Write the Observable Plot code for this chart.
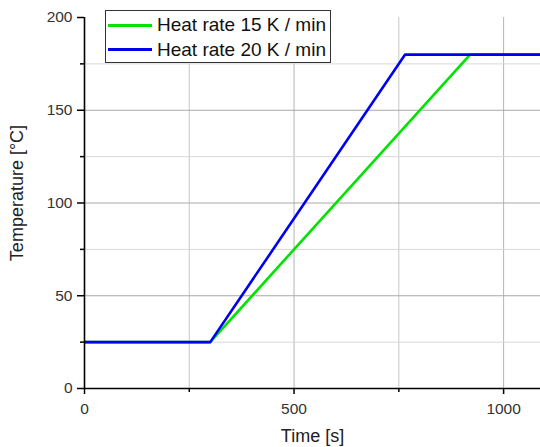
<!DOCTYPE html>
<html>
<head>
<meta charset="utf-8">
<script src="https://cdn.jsdelivr.net/npm/d3@7"></script>
<script src="https://cdn.jsdelivr.net/npm/@observablehq/plot@0.6"></script>
<style>
  body { margin: 0; background: white; }
  #wrap { position: relative; width: 540px; height: 447px; font-family: "Liberation Sans", Arial, sans-serif; }
  #legend { position: absolute; left: 105px; top: 10px; width: 224px; height: 51px; border: 1.5px solid #333; background: white; box-sizing: content-box; }
  .row { position: absolute; left: 0; height: 24px; display: flex; align-items: center; }
  .sw { width: 44px; height: 0; border-top: 3px solid; margin-left: 2px; margin-right: 5px; }
  .lab { font-size: 19px; color: #111; white-space: nowrap; }
</style>
</head>
<body>
<div id="wrap"><div id="legend"></div></div>
<script>
// Data
const seriesNames = ["Heat rate 15 K / min", "Heat rate 20 K / min"];
const seriesColors = ["#00e400", "#0000f0"];
const time15 = [0, 300, 920, 1100];
const temp15 = [25, 25, 180, 180];
const time20 = [0, 300, 765, 1100];
const temp20 = [25, 25, 180, 180];
const xMajorTicks = [0, 500, 1000];
const xMinorTicks = [250, 750];
const yMajorTicks = [0, 50, 100, 150, 200];
const yMinorTicks = [25, 75, 125, 175];
const xTitle = "Time [s]";
const yTitle = "Temperature [°C]";

const s15 = time15.map((t, i) => ({t, v: temp15[i]}));
const s20 = time20.map((t, i) => ({t, v: temp20[i]}));

const chart = Plot.plot({
  width: 540,
  height: 447,
  marginLeft: 84,
  marginRight: 0,
  marginTop: 17,
  marginBottom: 59,
  x: {domain: [0, 1088]},
  y: {domain: [0, 200]},
  style: {fontFamily: "'Liberation Sans', Arial, sans-serif", background: "white", overflow: "visible"},
  marks: [
    Plot.gridX(xMinorTicks, {stroke: "#c8c8c8", strokeOpacity: 1}),
    Plot.gridX(xMajorTicks.filter(d => d > 0), {stroke: "#b4b4b4", strokeOpacity: 1}),
    Plot.gridY(yMinorTicks, {stroke: "#d8d8d8", strokeOpacity: 1}),
    Plot.gridY(yMajorTicks.filter(d => d > 0 && d < 200), {stroke: "#a8a8a8", strokeOpacity: 1}),
    Plot.line(s15, {x: "t", y: "v", stroke: seriesColors[0], strokeWidth: 2.6, clip: true}),
    Plot.line(s20, {x: "t", y: "v", stroke: seriesColors[1], strokeWidth: 2.6, clip: true}),
    Plot.ruleY([0], {stroke: "black", strokeWidth: 1.6}),
    Plot.ruleX([0], {stroke: "black", strokeWidth: 1.6}),
    Plot.axisX(xMajorTicks, {tickSize: 6, tickPadding: 8, fontSize: 15.5, fill: "#333", stroke: "black", strokeWidth: 1.5, label: null, tickFormat: d => String(d)}),
    Plot.axisX(xMinorTicks, {tickSize: 4, tickFormat: () => "", stroke: "black", strokeWidth: 1.5, label: null}),
    Plot.axisY(yMajorTicks, {tickSize: 7, tickPadding: 5, fontSize: 15.5, fill: "#333", stroke: "black", strokeWidth: 1.5, label: null, tickFormat: d => String(d)}),
    Plot.axisY(yMinorTicks, {tickSize: 4, tickFormat: () => "", stroke: "black", strokeWidth: 1.5, label: null}),
    Plot.text([xTitle], {frameAnchor: "bottom", dy: 48, lineAnchor: "middle", fontSize: 18, fill: "#222"}),
    Plot.text([yTitle], {frameAnchor: "left", textAnchor: "middle", dx: -67, dy: -10, rotate: -90, fontSize: 18, fill: "#222"})
  ]
});
const wrap = document.getElementById("wrap");
wrap.insertBefore(chart, wrap.firstChild);

const legend = document.getElementById("legend");
seriesNames.forEach((name, i) => {
  const row = document.createElement("div");
  row.className = "row";
  row.style.top = (2 + i * 24.5) + "px";
  const sw = document.createElement("div");
  sw.className = "sw";
  sw.style.borderTopColor = seriesColors[i];
  const lab = document.createElement("span");
  lab.className = "lab";
  lab.textContent = name;
  row.appendChild(sw);
  row.appendChild(lab);
  legend.appendChild(row);
});
</script>
</body>
</html>
